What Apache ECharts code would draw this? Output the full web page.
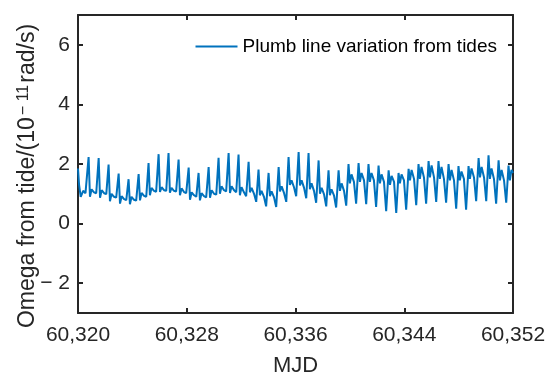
<!DOCTYPE html>
<html><head><meta charset="utf-8">
<script src="https://cdn.jsdelivr.net/npm/echarts@6/dist/echarts.min.js"></script>
<style>html,body{margin:0;padding:0;background:#fff}#c{width:550px;height:379px}</style>
</head><body><div id="c"></div>
<script>
const mjd = [
60320.00,60320.08,60320.20,60320.38,60320.55,
60320.78,60320.88,60321.00,60321.18,60321.34,
60321.52,60321.62,60321.74,60321.92,60322.08,
60322.25,60322.35,60322.47,60322.65,60322.81,
60322.99,60323.09,60323.21,60323.39,60323.55,
60323.72,60323.82,60323.94,60324.12,60324.28,
60324.46,60324.56,60324.68,60324.86,60325.02,
60325.19,60325.29,60325.41,60325.59,60325.75,
60325.93,60326.03,60326.15,60326.33,60326.49,
60326.66,60326.76,60326.88,60327.06,60327.22,
60327.40,60327.50,60327.62,60327.80,60327.96,
60328.14,60328.24,60328.36,60328.54,60328.70,
60328.87,60328.97,60329.09,60329.27,60329.43,
60329.61,60329.71,60329.83,60330.01,60330.17,
60330.34,60330.44,60330.56,60330.74,60330.90,
60331.08,60331.18,60331.30,60331.48,60331.64,
60331.81,60331.91,60332.03,60332.21,60332.37,
60332.55,60332.65,60332.77,60332.95,60333.11,
60333.28,60333.38,60333.50,60333.68,60333.84,
60334.02,60334.12,60334.24,60334.42,60334.58,
60334.76,60334.86,60334.98,60335.16,60335.32,
60335.49,60335.59,60335.71,60335.89,60336.05,
60336.23,60336.33,60336.45,60336.63,60336.79,
60336.96,60337.06,60337.18,60337.36,60337.52,
60337.70,60337.80,60337.92,60338.10,60338.26,
60338.43,60338.53,60338.65,60338.83,60338.99,
60339.17,60339.27,60339.39,60339.57,60339.73,
60339.90,60340.00,60340.12,60340.30,60340.46,
60340.64,60340.74,60340.86,60341.04,60341.20,
60341.37,60341.47,60341.59,60341.77,60341.93,
60342.11,60342.21,60342.33,60342.51,60342.67,
60342.85,60342.95,60343.07,60343.25,60343.41,
60343.58,60343.68,60343.80,60343.98,60344.14,
60344.32,60344.42,60344.54,60344.72,60344.88,
60345.05,60345.15,60345.27,60345.45,60345.61,
60345.79,60345.89,60346.01,60346.19,60346.35,
60346.52,60346.62,60346.74,60346.92,60347.08,
60347.26,60347.36,60347.48,60347.66,60347.82,
60347.99,60348.09,60348.21,60348.39,60348.55,
60348.73,60348.83,60348.95,60349.13,60349.29,
60349.47,60349.57,60349.69,60349.87,60350.03,
60350.20,60350.30,60350.42,60350.60,60350.76,
60350.94,60351.04,60351.16,60351.34,60351.50,
60351.67,60351.77,60351.89,60352.00
];
const omega = [
1.85,1.30,0.90,1.10,1.02,
2.23,0.90,1.15,1.05,1.02,
2.20,0.87,1.12,1.02,0.99,
1.98,0.75,1.00,0.90,0.87,
1.68,0.67,0.92,0.82,0.79,
1.49,0.65,0.90,0.80,0.77,
1.66,0.78,1.03,0.93,0.90,
2.03,0.95,1.20,1.10,1.07,
2.33,1.06,1.22,1.12,1.10,
2.37,1.04,1.20,1.10,1.08,
2.15,0.95,1.18,1.06,1.02,
1.88,0.80,1.05,0.95,0.90,
1.70,0.78,1.02,0.92,0.88,
1.90,0.87,1.12,1.00,0.97,
2.21,1.00,1.25,1.12,1.08,
2.37,1.03,1.25,1.12,1.05,
2.32,0.95,1.22,1.05,0.92,
2.07,1.05,1.20,1.00,0.73,
1.81,0.95,1.10,0.90,0.58,
1.70,0.92,1.08,0.88,0.56,
1.90,1.08,1.25,1.02,0.73,
2.23,1.30,1.45,1.22,0.92,
2.40,1.28,1.45,1.20,0.85,
2.37,1.15,1.35,1.10,0.70,
2.12,1.00,1.20,0.98,0.58,
1.79,0.95,1.15,0.95,0.54,
1.79,1.10,1.35,1.10,0.60,
2.00,1.35,1.65,1.40,0.67,
2.03,1.40,1.70,1.45,0.65,
2.00,1.40,1.70,1.45,0.56,
1.95,1.35,1.65,1.40,0.42,
1.79,1.30,1.60,1.40,0.36,
1.70,1.35,1.65,1.45,0.47,
1.84,1.45,1.80,1.50,0.62,
2.00,1.50,1.90,1.55,0.67,
2.10,1.55,1.95,1.55,0.73,
2.10,1.50,1.90,1.50,0.70,
2.00,1.45,1.80,1.45,0.50,
1.93,1.45,1.75,1.50,0.47,
1.93,1.50,1.85,1.55,0.75,
2.20,1.55,1.90,1.55,0.75,
2.29,1.50,1.85,1.50,0.67,
2.12,1.45,1.80,1.45,0.70,
1.95,1.45,1.80,1.70
];
const seriesName = 'Plumb line variation from tides';
const xTicks = [60320, 60328, 60336, 60344, 60352];
const yTicks = [-2, 0, 2, 4, 6];

const FONT = '"Liberation Sans", Arial, Helvetica, sans-serif';
const AX = '#262626';
const axisLine = {show: true, onZero: false, lineStyle: {color: AX, width: 2}};
const axisTick = {show: true, inside: true, length: 5, lineStyle: {color: AX, width: 2}};

const chart = echarts.init(document.getElementById('c'), null, {renderer: 'canvas'});
chart.setOption({
  animation: false,
  backgroundColor: '#fff',
  grid: {left: 78, right: 37, top: 15, bottom: 66, containLabel: false, outerBoundsMode: 'none'},
  legend: {
    data: [seriesName],
    right: 48, top: 32,
    itemWidth: 42, itemHeight: 12, itemGap: 5,
    itemStyle: {opacity: 0},
    lineStyle: {width: 2},
    textStyle: {fontSize: 19, color: '#000', fontFamily: FONT, padding: [0, 0, 0, 0]}
  },
  xAxis: [{
    type: 'value', min: 60320, max: 60352, interval: 8,
    axisLine: axisLine, axisTick: axisTick, splitLine: {show: false},
    axisLabel: {color: AX, fontSize: 21, fontFamily: FONT, margin: 12,
      formatter: v => v.toLocaleString('en-US')},
    name: 'MJD', nameLocation: 'middle', nameGap: 42, nameMoveOverlap: false,
    nameTextStyle: {color: AX, fontSize: 22, fontFamily: FONT}
  }, {
    type: 'value', position: 'top', min: 60320, max: 60352, interval: 8,
    axisLine: axisLine, axisTick: axisTick, splitLine: {show: false},
    axisLabel: {show: false}
  }],
  yAxis: [{
    type: 'value', min: -3, max: 7,
    axisLine: axisLine,
    axisTick: Object.assign({}, axisTick, {customValues: yTicks}),
    splitLine: {show: false},
    axisLabel: {customValues: yTicks, color: AX, fontSize: 21, fontFamily: FONT, margin: 8,
      formatter: v => v < 0 ? '\u2212 ' + Math.abs(v) : String(v)},
    name: '{n|Omega from tide/(10}{s|\u2212 11}{n|rad/s)}',
    nameLocation: 'middle', nameGap: 38, nameMoveOverlap: false,
    nameTextStyle: {
      color: AX, fontFamily: FONT, padding: [0, 24, 0, 0],
      rich: {
        n: {fontSize: 23, color: AX, fontFamily: FONT},
        s: {fontSize: 16, color: AX, fontFamily: FONT, verticalAlign: 'top', padding: [0, 2, 8, 2]}
      }
    }
  }, {
    type: 'value', position: 'right', min: -3, max: 7,
    axisLine: axisLine,
    axisTick: Object.assign({}, axisTick, {customValues: yTicks}),
    splitLine: {show: false},
    axisLabel: {show: false}
  }],
  series: [{
    name: seriesName, type: 'line', xAxisIndex: 0, yAxisIndex: 0,
    symbol: 'none', smooth: false,
    lineStyle: {color: '#0072BD', width: 2},
    itemStyle: {color: '#0072BD'},
    data: mjd.map((x, i) => [x, omega[i]])
  }]
});
</script>
</body></html>
